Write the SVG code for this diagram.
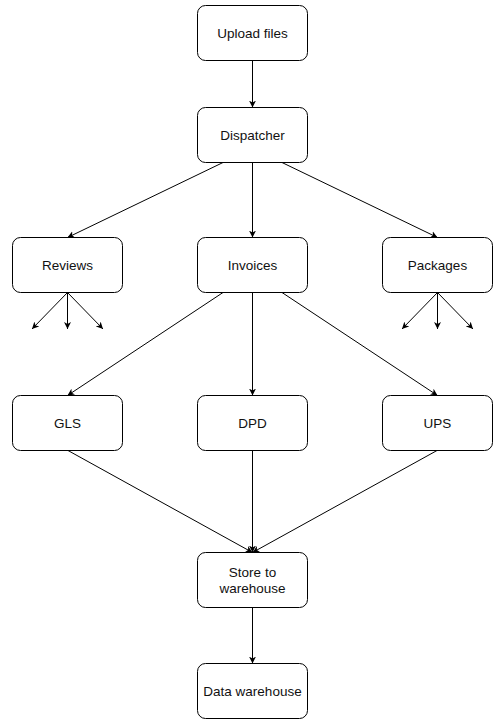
<svg xmlns="http://www.w3.org/2000/svg" width="495" height="720" viewBox="0 0 495 720">
<defs>
<style>
.box{fill:#fff;stroke:#000;stroke-width:1}
.lbl{font-family:"Liberation Sans",Arial,sans-serif;font-size:13.5px;fill:#111;text-anchor:middle;dominant-baseline:central}
.edge{fill:none;stroke:#000;stroke-width:1;marker-end:url(#arr)}
</style>
<marker id="arr" markerUnits="userSpaceOnUse" viewBox="0 0 8 8" refX="7" refY="4" markerWidth="8" markerHeight="8" orient="auto">
<path d="M0,0.5 L7,4 L0,7.5 L2,4 Z" fill="#000"/>
</marker>
</defs>
<rect width="495" height="720" fill="#fff"/>
<g id="connectors">
<path class="edge" d="M252.5,60.5 L252.5,107.5"/>
<path class="edge" d="M223,162.5 L67.5,237.5"/>
<path class="edge" d="M252.5,162.5 L252.5,237.5"/>
<path class="edge" d="M282,162.5 L437.5,237.5"/>
<path class="edge" d="M67.5,292.5 L32,329"/>
<path class="edge" d="M67.5,292.5 L67.5,329"/>
<path class="edge" d="M67.5,292.5 L103,329"/>
<path class="edge" d="M437.5,292.5 L402,329"/>
<path class="edge" d="M437.5,292.5 L437.5,329"/>
<path class="edge" d="M437.5,292.5 L473,329"/>
<path class="edge" d="M223,292.5 L67.5,395.5"/>
<path class="edge" d="M252.5,292.5 L252.5,395.5"/>
<path class="edge" d="M282,292.5 L437.5,395.5"/>
<path class="edge" d="M68,450.5 L252.5,552.5"/>
<path class="edge" d="M252.5,450.5 L252.5,552.5"/>
<path class="edge" d="M437,450.5 L252.5,552.5"/>
<path class="edge" d="M252.5,607.5 L252.5,663.5"/>
</g>
<g id="upload"><rect class="box" x="197.5" y="5.5" width="110" height="55" rx="8"/><text class="lbl" x="252.5" y="33">Upload files</text></g>
<g id="dispatcher"><rect class="box" x="197.5" y="107.5" width="110" height="55" rx="8"/><text class="lbl" x="252.5" y="135">Dispatcher</text></g>
<g id="reviews"><rect class="box" x="12.5" y="237.5" width="110" height="55" rx="8"/><text class="lbl" x="67.5" y="265">Reviews</text></g>
<g id="invoices"><rect class="box" x="197.5" y="237.5" width="110" height="55" rx="8"/><text class="lbl" x="252.5" y="265">Invoices</text></g>
<g id="packages"><rect class="box" x="382.5" y="237.5" width="110" height="55" rx="8"/><text class="lbl" x="437.5" y="265">Packages</text></g>
<g id="gls"><rect class="box" x="12.5" y="395.5" width="110" height="55" rx="8"/><text class="lbl" x="67.5" y="423">GLS</text></g>
<g id="dpd"><rect class="box" x="197.5" y="395.5" width="110" height="55" rx="8"/><text class="lbl" x="252.5" y="423">DPD</text></g>
<g id="ups"><rect class="box" x="382.5" y="395.5" width="110" height="55" rx="8"/><text class="lbl" x="437.5" y="423">UPS</text></g>
<g id="store"><rect class="box" x="197.5" y="552.5" width="110" height="55" rx="8"/><text class="lbl" x="252.5" y="572">Store to</text><text class="lbl" x="252.5" y="588">warehouse</text></g>
<g id="datawarehouse"><rect class="box" x="197.5" y="663.5" width="110" height="55" rx="8"/><text class="lbl" x="252.5" y="691">Data warehouse</text></g>
</svg>
